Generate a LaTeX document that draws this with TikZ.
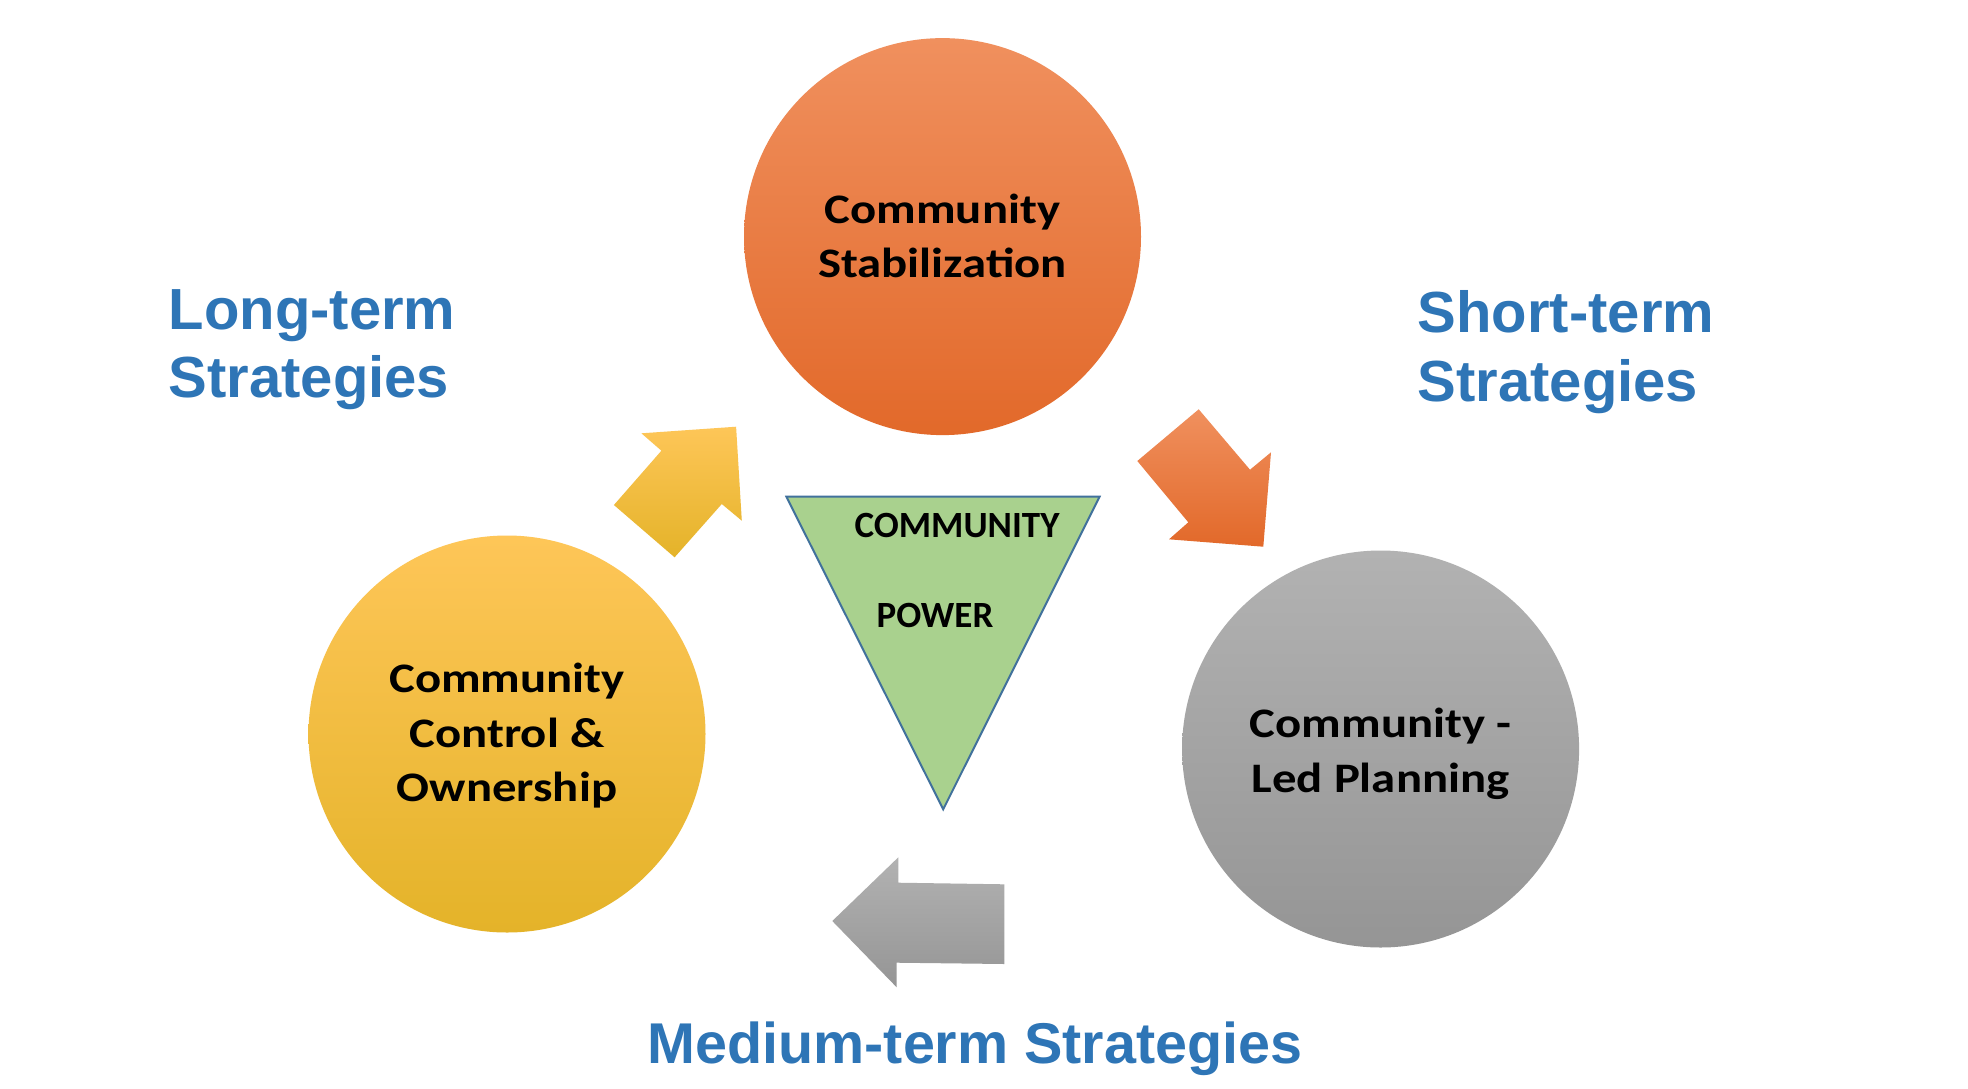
\documentclass[tikz,border=0pt]{standalone}
\usepackage{fontspec}
\setmainfont{Liberation Sans}
\newfontfamily\calfont{Carlito}
\newfontfamily\circfont{Carlito}[FakeStretch=1.16]
\definecolor{bluetxt}{HTML}{2E75B6}
\definecolor{orTop}{HTML}{F0905E}
\definecolor{orMid}{HTML}{F07E3C}
\definecolor{orBot}{HTML}{E2692A}
\definecolor{yeTop}{HTML}{FEC658}
\definecolor{yeMid}{HTML}{FCC22C}
\definecolor{yeBot}{HTML}{E4B329}
\definecolor{grTop}{HTML}{B2B2B2}
\definecolor{grMid}{HTML}{A8A8A8}
\definecolor{grBot}{HTML}{959595}
\definecolor{triFill}{HTML}{A9D18E}
\definecolor{triLine}{HTML}{41719C}
\begin{document}
\begin{tikzpicture}[x=1pt,y=-1pt,
  disc/.style={circle, minimum size=397pt, inner sep=0pt},
  circtext/.style={align=center, inner sep=0pt, font=\circfont\bfseries\fontsize{42}{54.5}\selectfont},
  tritext/.style={inner sep=0pt, anchor=base, font=\calfont\bfseries\fontsize{37}{44}\selectfont},
  strat/.style={text=bluetxt, inner sep=0pt, align=left, font=\bfseries\fontsize{58}{68}\selectfont}
]
\useasboundingbox (0,0) rectangle (1968,1088);
\fill[white] (0,0) rectangle (1968,1088);

% circles
\node[disc, top color=orTop, middle color=orMid, bottom color=orBot] (stab) at (942.5,236.6) {};
\node[disc, top color=yeTop, middle color=yeMid, bottom color=yeBot] (ctrl) at (507,734) {};
\node[disc, top color=grTop, middle color=grMid, bottom color=grBot] (plan) at (1380.6,749) {};

\node[circtext] (stabt) at (942.5,236) {Community\\Stabilization};
\node[circtext] (ctrlt) at (507,736) {Community\\Control \&\\Ownership};
\node[circtext] (plant) at (1380.6,754) {Community -\\Led Planning};

% central triangle
\coordinate (tl) at (786.4,496.7);
\coordinate (tr) at (1099.6,496.7);
\coordinate (tb) at (943.2,809.3);
\filldraw[fill=triFill, draw=triLine, line width=2pt, line join=miter] (tl) -- (tr) -- (tb) -- cycle;
\node[tritext] (comm) at (957,537.3) {COMMUNITY};
\node[tritext] (power) at (935,627.7) {POWER};

% block arrows
\shade[top color=yeTop, middle color=yeMid, bottom color=yeBot]
  (641.4,433.3) -- (736.1,426.7) -- (741.8,520.7) -- (721.8,504) -- (674.6,557.3) -- (613.9,505) -- (661.4,450.7) -- cycle;
\shade[top color=orTop, middle color=orMid, bottom color=orBot]
  (1198.7,409.3) -- (1250,469.7) -- (1271,452.3) -- (1263.3,546.7) -- (1169,539.3) -- (1188.3,522.3) -- (1137.3,461) -- cycle;
\shade[top color=grTop, middle color=grMid, bottom color=grBot]
  (898.3,857.3) -- (898.3,882.7) -- (1004.3,884.3) -- (1004.3,964) -- (896.7,962.7) -- (896.7,987.3) -- (832.3,921) -- cycle;

% strategy labels
\node[strat, anchor=north west] (longt) at (168.5,289) {Long-term\\Strategies};
\node[strat, anchor=north west, font=\bfseries\fontsize{58}{69}\selectfont] (shortt) at (1417.5,290) {Short-term\\Strategies};
\node[strat, anchor=base, font=\bfseries\fontsize{57.5}{66}\selectfont] (medt) at (975,1063) {Medium-term Strategies};
\end{tikzpicture}
\end{document}
